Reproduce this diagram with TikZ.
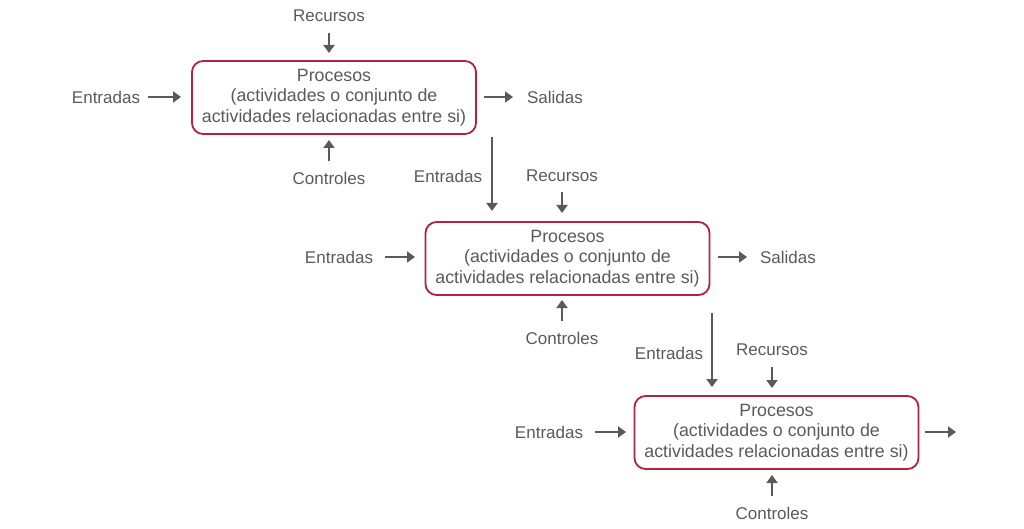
\documentclass[tikz,border=0pt]{standalone}
\usepackage{fontspec}
\setmainfont{Liberation Sans}
\usetikzlibrary{arrows.meta}
\definecolor{txt}{HTML}{5A5A5A}
\definecolor{boxc}{HTML}{B3223F}
\begin{document}
\begin{tikzpicture}[x=1pt,y=-1pt,
  font=\fontsize{17}{20.5}\selectfont,
  lbl/.style={text=txt,inner sep=0pt,anchor=center},
  proc/.style={draw=boxc,line width=1.8pt,rounded corners=11pt,text=txt,align=center,minimum width=284pt,minimum height=73pt,inner sep=0pt,font=\fontsize{17.8}{20.6}\selectfont},
  arr/.style={draw=txt,line width=2.2pt,-{Triangle[length=8pt,width=11pt]}}]
\useasboundingbox (0,0) rectangle (1024,529);
% box 1
\node[proc] (p1) at (334,97.5) {Procesos\\(actividades o conjunto de\\actividades relacionadas entre si)};
\node[lbl] (r1) at (329,16) {Recursos};
\node[lbl] (c1) at (329,178) {Controles};
\node[lbl] (e1) at (106,97) {Entradas};
\node[lbl] (s1) at (555,97) {Salidas};
\coordinate (r1a) at (329,33); \coordinate (r1b) at (329,53);
\coordinate (c1a) at (329,161); \coordinate (c1b) at (329,140);
\coordinate (e1a) at (148,97); \coordinate (e1b) at (181,97);
\coordinate (s1a) at (484,97); \coordinate (s1b) at (513,97);
\draw[arr] (r1a) -- (r1b);
\draw[arr] (c1a) -- (c1b);
\draw[arr] (e1a) -- (e1b);
\draw[arr] (s1a) -- (s1b);
% link 1-2
\coordinate (d1a) at (492,137); \coordinate (d1b) at (492,211);
\draw[arr] (d1a) -- (d1b);
\node[lbl] (e2t) at (448,176) {Entradas};
\node[lbl] (r2) at (562,176) {Recursos};
\coordinate (r2a) at (562,192); \coordinate (r2b) at (562,213);
\draw[arr] (r2a) -- (r2b);
% box 2
\node[proc] (p2) at (567.5,258.5) {Procesos\\(actividades o conjunto de\\actividades relacionadas entre si)};
\node[lbl] (e2) at (339,257) {Entradas};
\node[lbl] (s2) at (788,257) {Salidas};
\node[lbl] (c2) at (562,338) {Controles};
\coordinate (e2a) at (385,257); \coordinate (e2b) at (415,257);
\coordinate (s2a) at (718,257); \coordinate (s2b) at (747,257);
\coordinate (c2a) at (562,321); \coordinate (c2b) at (562,300);
\draw[arr] (e2a) -- (e2b);
\draw[arr] (s2a) -- (s2b);
\draw[arr] (c2a) -- (c2b);
% link 2-3
\coordinate (d2a) at (712,313); \coordinate (d2b) at (712,387);
\draw[arr] (d2a) -- (d2b);
\node[lbl] (e3t) at (669,353) {Entradas};
\node[lbl] (r3) at (772,350) {Recursos};
\coordinate (r3a) at (772,367); \coordinate (r3b) at (772,388);
\draw[arr] (r3a) -- (r3b);
% box 3
\node[proc] (p3) at (776.5,432.5) {Procesos\\(actividades o conjunto de\\actividades relacionadas entre si)};
\node[lbl] (e3) at (549,432) {Entradas};
\node[lbl] (c3) at (772,513) {Controles};
\coordinate (e3a) at (595,432); \coordinate (e3b) at (626,432);
\coordinate (s3a) at (925,432); \coordinate (s3b) at (956,432);
\coordinate (c3a) at (772,496); \coordinate (c3b) at (772,475);
\draw[arr] (e3a) -- (e3b);
\draw[arr] (s3a) -- (s3b);
\draw[arr] (c3a) -- (c3b);
\end{tikzpicture}
\end{document}
